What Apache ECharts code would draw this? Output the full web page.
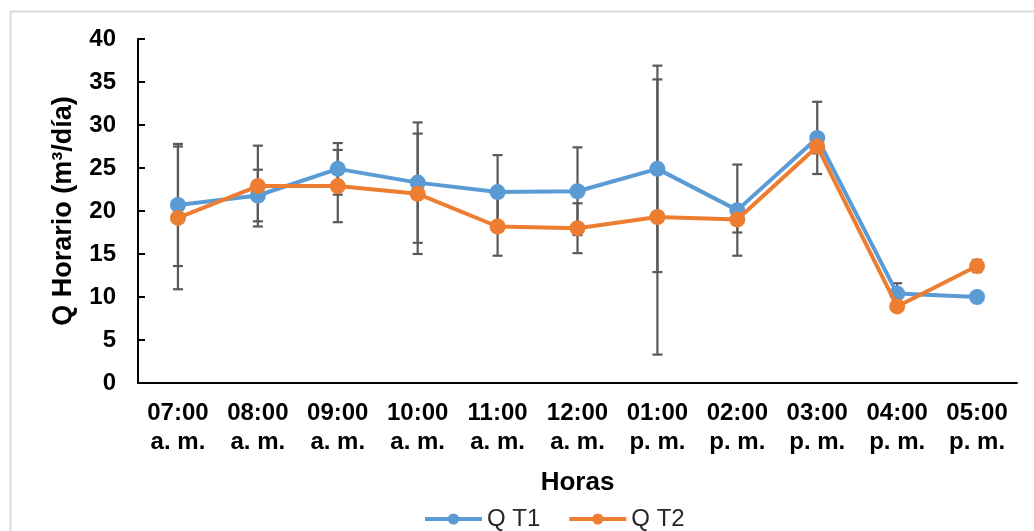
<!DOCTYPE html>
<html>
<head>
<meta charset="utf-8">
<script src="https://cdn.jsdelivr.net/npm/echarts@6/dist/echarts.min.js"></script>
<style>
html,body{margin:0;padding:0;background:#fff;}
#chart{width:1034px;height:531px;}
</style>
</head>
<body>
<div id="chart"></div>
<script>
var categories = ['07:00\na. m.','08:00\na. m.','09:00\na. m.','10:00\na. m.','11:00\na. m.','12:00\na. m.','01:00\np. m.','02:00\np. m.','03:00\np. m.','04:00\np. m.','05:00\np. m.'];
var qT1 = [20.7, 21.8, 24.9, 23.3, 22.2, 22.3, 24.9, 20.1, 28.5, 10.4, 10.0];
var errT1 = [7.1, 3.0, 3.0, 7.0, 4.3, 5.1, 12.0, 5.3, 4.2, 1.2, 0.4];
var qT2 = [19.2, 22.9, 22.9, 22.0, 18.2, 18.0, 19.3, 19.0, 27.5, 8.9, 13.6];
var errT2 = [8.3, 4.7, 4.2, 7.0, 3.4, 2.9, 16.0, 1.5, 0.8, 0.5, 0.7];
var yTicks = {min: 0, max: 40, interval: 5};

var FONT = "'Liberation Sans', Arial, sans-serif";

function errData(vals, errs) {
  return vals.map(function (v, i) { return [i, v - errs[i], v + errs[i]]; });
}

function renderErr(params, api) {
  var i = api.value(0);
  var lo = api.coord([i, api.value(1)]);
  var hi = api.coord([i, api.value(2)]);
  var hw = 5;
  var st = {stroke: '#595959', lineWidth: 2.2};
  return {
    type: 'group',
    children: [
      {type: 'line', shape: {x1: hi[0], y1: hi[1], x2: lo[0], y2: lo[1]}, style: st},
      {type: 'line', shape: {x1: hi[0] - hw, y1: hi[1], x2: hi[0] + hw, y2: hi[1]}, style: st},
      {type: 'line', shape: {x1: lo[0] - hw, y1: lo[1], x2: lo[0] + hw, y2: lo[1]}, style: st}
    ]
  };
}

var chart = echarts.init(document.getElementById('chart'), null, {renderer: 'canvas'});
chart.setOption({
  animation: false,
  backgroundColor: '#ffffff',
  graphic: [{
    type: 'rect', left: 8, top: 9, z: -10,
    shape: {x: 0, y: 0, width: 1060, height: 560},
    style: {fill: 'none', stroke: '#d9d9d9', lineWidth: 2}
  }],
  grid: {left: 138, right: 17, top: 39, bottom: 148, containLabel: false},
  legend: {
    left: 418, top: 502,
    itemWidth: 57, itemHeight: 14, itemGap: 27,
    lineStyle: {width: 4},
    textStyle: {fontFamily: FONT, fontSize: 24, color: '#262626'},
    data: ['Q T1', 'Q T2']
  },
  xAxis: {
    type: 'category',
    data: categories,
    boundaryGap: true,
    name: 'Horas',
    nameLocation: 'middle',
    nameGap: 87,
    nameTextStyle: {fontFamily: FONT, fontSize: 26, fontWeight: 'bold', color: '#000'},
    axisLine: {lineStyle: {color: '#000', width: 2}},
    axisTick: {inside: true, length: 6, lineStyle: {color: '#000', width: 2}},
    axisLabel: {fontFamily: FONT, fontSize: 24, fontWeight: 'bold', color: '#000', lineHeight: 29, margin: 16, interval: 0}
  },
  yAxis: {
    type: 'value',
    min: yTicks.min, max: yTicks.max, interval: yTicks.interval,
    name: 'Q Horario (m³/día)',
    nameLocation: 'middle',
    nameGap: 61,
    nameRotate: 90,
    nameTextStyle: {fontFamily: FONT, fontSize: 27, fontWeight: 'bold', color: '#000'},
    axisLine: {show: true, lineStyle: {color: '#000', width: 2}},
    axisTick: {show: true, inside: true, length: 7, lineStyle: {color: '#000', width: 2}},
    axisLabel: {fontFamily: FONT, fontSize: 24, fontWeight: 'bold', color: '#000', margin: 22},
    splitLine: {show: false}
  },
  series: [
    {
      type: 'custom', name: 'errT1', renderItem: renderErr,
      data: errData(qT1, errT1), encode: {x: 0, y: [1, 2]}, z: 1, silent: true
    },
    {
      type: 'custom', name: 'errT2', renderItem: renderErr,
      data: errData(qT2, errT2), encode: {x: 0, y: [1, 2]}, z: 1, silent: true
    },
    {
      type: 'line', name: 'Q T1', data: qT1, z: 3,
      symbol: 'circle', symbolSize: 16,
      itemStyle: {color: '#5B9BD5'},
      lineStyle: {color: '#5B9BD5', width: 4}
    },
    {
      type: 'line', name: 'Q T2', data: qT2, z: 4,
      symbol: 'circle', symbolSize: 16,
      itemStyle: {color: '#ED7D31'},
      lineStyle: {color: '#ED7D31', width: 4}
    }
  ]
});
</script>
</body>
</html>
